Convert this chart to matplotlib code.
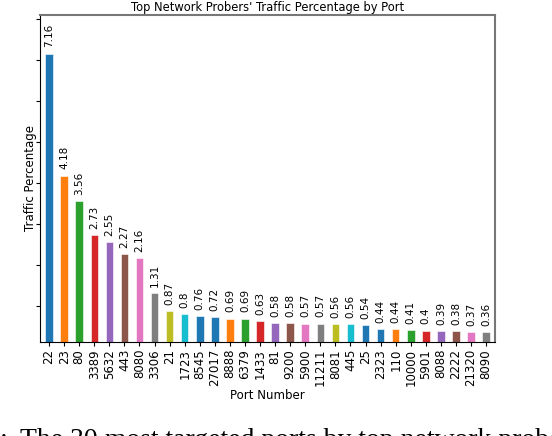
import matplotlib
matplotlib.use("Agg")
import matplotlib.pyplot as plt

# Ports and traffic percentages
ports = ["22", "23", "80", "3389", "5632", "443", "8080", "3306", "21", "1723",
         "8545", "27017", "8888", "6379", "1433", "81", "9200", "5900", "11211", "8081",
         "445", "25", "2323", "110", "10000", "5901", "8088", "2222", "21320", "8090"]
traffic_pct = [7.16, 4.18, 3.56, 2.73, 2.55, 2.27, 2.16, 1.31, 0.87, 0.8,
               0.76, 0.72, 0.69, 0.69, 0.63, 0.58, 0.58, 0.57, 0.57, 0.56,
               0.56, 0.54, 0.44, 0.44, 0.41, 0.4, 0.39, 0.38, 0.37, 0.36]
value_labels = ["7.16", "4.18", "3.56", "2.73", "2.55", "2.27", "2.16", "1.31", "0.87", "0.8",
                "0.76", "0.72", "0.69", "0.69", "0.63", "0.58", "0.58", "0.57", "0.57", "0.56",
                "0.56", "0.54", "0.44", "0.44", "0.41", "0.4", "0.39", "0.38", "0.37", "0.36"]

palette = ["#1f77b4", "#ff7f0e", "#2ca02c", "#d62728", "#9467bd",
           "#8c564b", "#e377c2", "#7f7f7f", "#bcbd22", "#17becf", "#1f77b4"]
colors = [palette[i % len(palette)] for i in range(len(ports))]

fig = plt.figure(figsize=(5.52, 4.36), dpi=100)
ax = fig.add_axes([0.0725, 0.2156, 0.8245, 0.75])

x = range(len(ports))
bars = ax.bar(x, traffic_pct, width=0.5, color=colors, edgecolor="white", linewidth=0.4)

for i, b in enumerate(bars):
    ax.text(b.get_x() + b.get_width() / 2, b.get_height() + 0.15, value_labels[i],
            rotation=90, ha="center", va="bottom", fontsize=7.5)

ax.set_xlim(-0.6, len(ports) - 0.4)
ax.set_ylim(0.12, 8.1)
ax.set_xticks(list(x))
ax.set_xticklabels(ports, rotation=90, fontsize=8.5)
ax.set_yticks(range(1, 9))
ax.set_yticklabels([])
ax.tick_params(axis="y", length=3, width=0.8)
ax.tick_params(axis="x", length=3, width=0.8, pad=2)

ax.spines["top"].set_color("#777777")
ax.spines["right"].set_color("#777777")
ax.spines["top"].set_linewidth(1.5)
ax.spines["right"].set_linewidth(1.5)

ax.set_title("Top Network Probers' Traffic Percentage by Port", fontsize=8.3, pad=3)
ax.set_xlabel("Port Number", fontsize=8.5, labelpad=2)
ax.set_ylabel("Traffic Percentage", fontsize=8.5)
ax.yaxis.set_label_coords(-0.006, 0.5)

# cropped caption line from the paper page
fig.text(0.036, -0.038, "The 30 most targeted ports by top network probers", fontsize=20,
         family="Liberation Serif", ha="left", va="bottom")
fig.text(0.0, -0.038, ":", fontsize=20, family="Liberation Serif", ha="left", va="bottom")

fig.savefig("out.png", dpi=100)
